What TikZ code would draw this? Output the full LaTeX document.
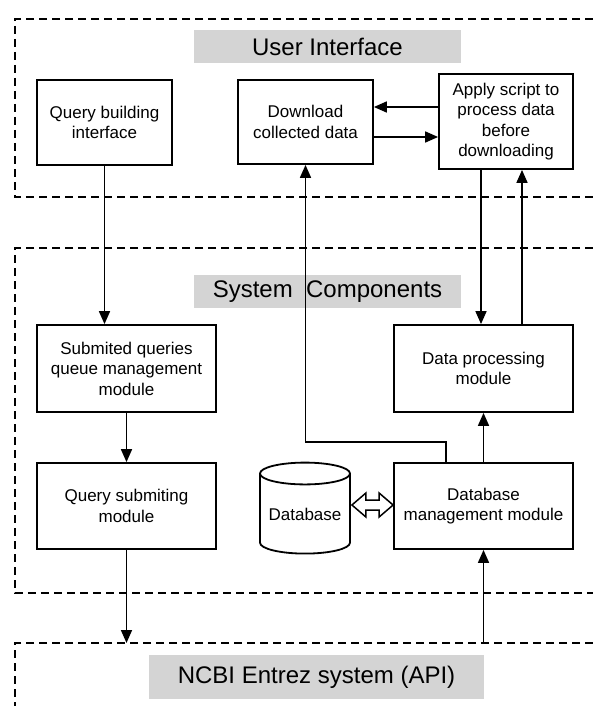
\documentclass[tikz,border=0pt]{standalone}
\usepackage{fontspec}
\setmainfont{Liberation Sans}
\usetikzlibrary{arrows.meta,shapes.geometric,calc}
\definecolor{lblgray}{RGB}{212,212,212}
\begin{document}
\begin{tikzpicture}[x=1pt,y=-1pt,
  region/.style={line width=1.6pt, dash pattern=on 8pt off 5pt},
  lbl/.style={fill=lblgray, inner sep=0pt, font=\fontsize{24}{28}\selectfont},
  box/.style={draw, line width=1.8pt, inner sep=2pt, align=center, font=\fontsize{17}{20.5}\selectfont},
  arr/.style={line width=1.7pt, -{Triangle[length=13pt,width=11pt]}},
  link/.style={line width=1.7pt}]
\useasboundingbox (0,0) rectangle (593,706);
% regions
\draw[region] (593,19) -- (15,19) -- (15,197) -- (593,197);
\draw[region] (593,248) -- (15,248) -- (15,593) -- (593,593);
\draw[region] (593,643) -- (15,643) -- (15,706);
% region labels
\node[lbl, minimum width=267pt, minimum height=33pt] (uil) at (327.5,46.5) {User Interface};
\node[lbl, minimum width=267pt, minimum height=33pt] (scl) at (327.5,291.5) {System~ Components};
\node[lbl, minimum width=335pt, minimum height=44pt] (ncl) at (316.5,677) {NCBI Entrez system (API)};
% boxes
\node[box, minimum width=135pt, minimum height=85pt] (qb) at (104.5,122.5) {Query building\\interface};
\node[box, minimum width=135pt, minimum height=84pt] (dl) at (305.5,122) {Download\\collected data};
\node[box, minimum width=134pt, minimum height=95pt] (ap) at (506,121.5) {Apply script to\\process data\\before\\downloading};
\node[box, minimum width=179pt, minimum height=87pt] (sq) at (126.5,368.5) {Submited queries\\queue management\\module};
\node[box, minimum width=179pt, minimum height=87pt] (dp) at (483.5,368.5) {Data processing\\module};
\node[box, minimum width=179pt, minimum height=86pt] (qs) at (126.5,506) {Query submiting\\module};
\node[box, minimum width=179pt, minimum height=86pt] (dbm) at (483.5,506) {Database\\management module};
\node[draw, line width=1.8pt, cylinder, shape border rotate=90, aspect=0.3,
      minimum width=90pt, minimum height=91pt, inner sep=0pt,
      font=\fontsize{17}{20.5}\selectfont] (db) at (305,514) {Database};
% coordinates
\coordinate (ntop) at (0,643);
\coordinate (bend) at (0,442);
% connectors
\draw[arr] (qb.south) -- (qb.south |- sq.north);
\draw[arr] (qs.south |- sq.south) -- (qs.north);
\draw[arr] (qs.south) -- (qs.south |- ntop);
\draw[arr] (dbm.south |- ntop) -- (dbm.south);
\draw[arr] (dbm.north) -- (dp.south);
\draw[arr] ([xshift=-37.5pt]dbm.north) |- ($(dl.south |- bend)$) -- (dl.south);
\draw[arr] ([yshift=14.5pt]ap.west) -- ([yshift=15pt]dl.east);
\draw[arr] ([yshift=-15pt]dl.east) -- ([yshift=-15.5pt]ap.west);
\draw[arr] ([xshift=-25pt]ap.south) -- ([xshift=-25pt]ap.south |- dp.north);
\draw[arr] ([xshift=16pt]ap.south |- dp.north) -- ([xshift=16pt]ap.south);
% double hollow arrow
\coordinate (L) at ($(db.east)+(1,-9)$);
\coordinate (R) at (dbm.west |- L);
\draw[line width=1.5pt, fill=white, line join=miter]
  (L) -- ++(14,-12) -- ++(0,7) -- ($(R)+(-14,-5)$) -- ++(0,-7) -- (R)
  -- ++(-14,12) -- ++(0,-7) -- ($(L)+(14,5)$) -- ++(0,7) -- cycle;
\end{tikzpicture}
\end{document}
